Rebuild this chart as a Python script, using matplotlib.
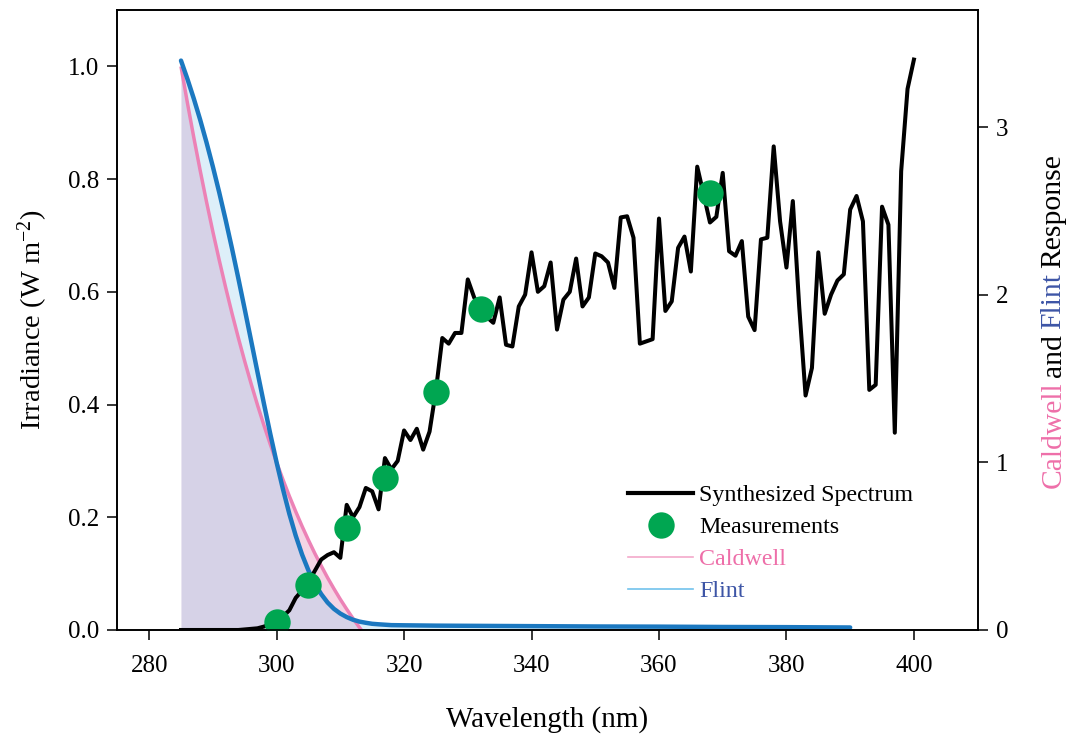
import numpy as np
import matplotlib.pyplot as plt
from matplotlib.lines import Line2D

plt.rcParams['font.family'] = ['Liberation Serif', 'DejaVu Serif']
plt.rcParams['mathtext.default'] = 'regular'

# synthesized spectrum, 1 nm steps from 285 to 400 nm
wl_spec = np.arange(285, 401)
spectrum = [0.000, 0.000, 0.000, 0.000, 0.000, 0.000, 0.000, 0.000, 0.000, 0.000,
            0.001, 0.002, 0.003, 0.006, 0.010, 0.016, 0.024, 0.035, 0.057, 0.070,
            0.085, 0.105, 0.125, 0.133, 0.138, 0.128, 0.222, 0.200, 0.218, 0.252,
            0.246, 0.214, 0.305, 0.285, 0.300, 0.354, 0.337, 0.357, 0.320, 0.352,
            0.425, 0.518, 0.508, 0.527, 0.527, 0.622, 0.590, 0.570, 0.555, 0.545,
            0.590, 0.506, 0.503, 0.574, 0.595, 0.670, 0.600, 0.610, 0.652, 0.533,
            0.586, 0.600, 0.659, 0.574, 0.590, 0.668, 0.663, 0.652, 0.607, 0.732,
            0.734, 0.696, 0.508, 0.512, 0.516, 0.730, 0.566, 0.583, 0.678, 0.698,
            0.636, 0.822, 0.773, 0.723, 0.733, 0.811, 0.672, 0.664, 0.690, 0.556,
            0.532, 0.693, 0.696, 0.858, 0.725, 0.643, 0.761, 0.574, 0.416, 0.465,
            0.670, 0.561, 0.595, 0.620, 0.631, 0.746, 0.770, 0.725, 0.426, 0.435,
            0.751, 0.719, 0.350, 0.814, 0.960, 1.012]

# measurements
wl_meas = [300, 305, 311, 317, 325, 332, 368]
meas = [0.015, 0.080, 0.181, 0.270, 0.423, 0.570, 0.776]

# Caldwell response (normalised at 300 nm)
wl_cald = [285, 286, 287, 288, 289, 290, 291, 292, 293, 294, 295, 296, 297, 298,
           299, 300, 301, 302, 303, 304, 305, 306, 307, 308, 309, 310, 311, 312,
           313, 313.3]
cald = [3.363, 3.147, 2.941, 2.744, 2.556, 2.377, 2.207, 2.045, 1.890, 1.743,
        1.603, 1.470, 1.343, 1.223, 1.109, 1.000, 0.897, 0.799, 0.707, 0.619,
        0.536, 0.457, 0.383, 0.312, 0.246, 0.183, 0.124, 0.068, 0.015, 0.0]

# Flint response (normalised at 300 nm)
wl_flint = [285, 286, 287, 288, 289, 290, 291, 292, 293, 294, 295, 296, 297, 298,
            299, 300, 301, 302, 303, 304, 305, 306, 307, 308, 309, 310, 311, 312,
            313, 314, 315, 316, 318, 320, 325, 330, 340, 350, 360, 370, 380, 390]
flint = [3.398, 3.289, 3.172, 3.046, 2.910, 2.765, 2.611, 2.448, 2.277, 2.098,
         1.914, 1.727, 1.539, 1.353, 1.172, 1.000, 0.840, 0.693, 0.563, 0.450,
         0.355, 0.277, 0.214, 0.164, 0.126, 0.098, 0.077, 0.061, 0.050, 0.043,
         0.037, 0.034, 0.029, 0.028, 0.026, 0.025, 0.023, 0.021, 0.020, 0.018,
         0.017, 0.015]

pink = '#ec82b6'
blue = '#1b78c0'
green = '#00a651'
pink_txt = '#ee6fa9'
blue_txt = '#3d55a6'

fig = plt.figure(figsize=(10.68, 7.34), dpi=100)
ax = fig.add_axes([0.1098, 0.1417, 0.8056, 0.8447])
ax2 = ax.twinx()
# spectrum axes drawn above the response curves
ax.set_zorder(ax2.get_zorder() + 1)
ax.patch.set_visible(False)

ax2.fill_between(wl_cald, 0, cald, color='#e176ac', alpha=0.3, lw=0)
ax2.fill_between(wl_flint, 0, flint, color='#91cdee', alpha=0.3, lw=0)
ax2.plot(wl_cald, cald, color=pink, lw=2.5, solid_capstyle='butt', clip_on=False)
ax2.plot(wl_flint, flint, color=blue, lw=3.2, solid_capstyle='round')

ax.plot(wl_spec, spectrum, color='black', lw=2.9)
ax.plot(wl_meas, meas, 'o', color=green, ms=19, mec='none')

ax.set_xlim(275, 410)
ax.set_ylim(0, 1.1)
ax2.set_ylim(0, 3.7)
ax.set_xticks(np.arange(280, 401, 20))
ax.set_yticks(np.arange(0, 1.01, 0.2))
ax.set_yticklabels(['%.1f' % v for v in np.arange(0, 1.01, 0.2)])
ax2.set_yticks([0, 1, 2, 3])

for a in (ax, ax2):
    a.tick_params(direction='out', length=7, width=1.1, labelsize=18, pad=6)
    for s in a.spines.values():
        s.set_linewidth(1.2)
ax.tick_params(axis='x', pad=11)

ax.set_xlabel('Wavelength (nm)', fontsize=21, labelpad=21)
ax.set_ylabel('Irradiance (W m$^{-2}$)', fontsize=20.5, labelpad=13)

handles = [Line2D([], [], color='black', lw=3),
           Line2D([], [], marker='o', color=green, ms=19, mec='none', ls='none'),
           Line2D([], [], color='#f4a9cb', lw=1.2),
           Line2D([], [], color='#72c2ec', lw=1.2)]
labels = ['Synthesized Spectrum', 'Measurements', 'Caldwell', 'Flint']
leg = ax.legend(handles, labels, loc='upper left', bbox_to_anchor=(0.583, 0.250),
                frameon=False, fontsize=17.3, handlelength=2.7, handletextpad=0.25,
                labelspacing=0.42, borderaxespad=0)
leg.get_texts()[2].set_color(pink_txt)
leg.get_texts()[3].set_color(blue_txt)

# right axis label with coloured words
fig.canvas.draw()
r = fig.canvas.get_renderer()
pieces = [('Caldwell', pink_txt), ('and', 'black'), ('Flint', blue_txt), ('Response', 'black')]
texts = [fig.text(0.993, 0, w, color=c, fontsize=21.3, rotation=90,
                  rotation_mode='anchor', ha='left', va='baseline') for w, c in pieces]
heights = [t.get_window_extent(r).height for t in texts]
gap = 5
total = sum(heights) + gap * (len(texts) - 1)
H = fig.get_figheight() * fig.dpi
y = H - 321 - total / 2
for t, h in zip(texts, heights):
    t.set_position((0.993, y / H))
    y += h + gap

fig.savefig('out.png', dpi=100)
